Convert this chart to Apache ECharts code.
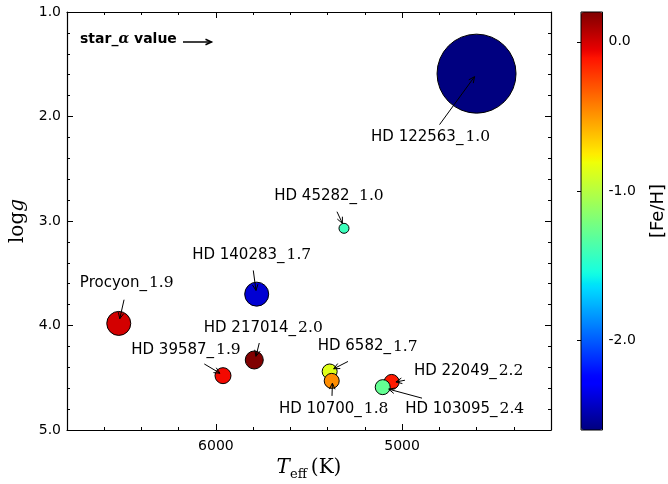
<!DOCTYPE html>
<html>
<head>
<meta charset="utf-8">
<script src="https://cdn.jsdelivr.net/npm/echarts@6/dist/echarts.min.js"></script>
<style>
  html, body { margin: 0; padding: 0; background: #fff; }
  #chart { width: 668px; height: 484px; }
</style>
</head>
<body>
<div id="chart"></div>
<script>
// ---- data ----
const starNames = ['HD 122563', 'HD 45282', 'HD 140283', 'Procyon', 'HD 217014',
                   'HD 39587', 'HD 6582', 'HD 10700', 'HD 22049', 'HD 103095'];
const teff      = [4600, 5312, 5781, 6522, 5794, 5962, 5389, 5378, 5056, 5104];
const logg      = [1.59, 3.07, 3.70, 3.98, 4.33, 4.48, 4.44, 4.53, 4.54, 4.59];
const feh       = [-2.60, -1.42, -2.40, 0.00, 0.20, -0.08, -0.86, -0.47, -0.13, -1.28];
const starAlpha = [1.0, 1.0, 1.7, 1.9, 2.0, 1.9, 1.7, 1.8, 2.2, 2.4];

const xTickValues   = [5000, 6000];
const fehTickValues = [-2, -1, 0];

// ---- styling / layout ----
const markerDiameter = [79, 10, 24, 24, 18, 16, 15, 15, 15, 15];
// annotation placement relative to each marker, in pixels:
// text centre, arrow tail, arrow head
const labelLayout = [
  { text: [-46, 63],   tail: [-37, 51],   head: [-2, 3] },
  { text: [-15, -32],  tail: [-7, -16.6], head: [-1.6, -5] },
  { text: [-5, -39],   tail: [-3.4, -23.7], head: [-0.7, -3.7] },
  { text: [8, -40],    tail: [5.3, -23.7], head: [1, -4.7] },
  { text: [9, -32],    tail: [5, -17],    head: [1.7, -3.7] },
  { text: [-37, -26],  tail: [-18.7, -11.7], head: [-3, -2.4] },
  { text: [38, -25],   tail: [18.3, -10], head: [4, -2.7] },
  { text: [2, 28],     tail: [0.3, 15],   head: [0.7, 2.3] },
  { text: [77, -11],   tail: [13.3, -1.7], head: [4.3, 0] },
  { text: [82, 22],    tail: [39.3, 11],  head: [6, 2] }
];

const SANS = 'DejaVu Sans';
const SERIF = 'DejaVu Serif';

// matplotlib "jet" colour map
function jetChannel(pts, t) {
  for (let i = 1; i < pts.length; i++) {
    if (t <= pts[i][0]) {
      const a = pts[i - 1], b = pts[i];
      return a[1] + (b[1] - a[1]) * (t - a[0]) / (b[0] - a[0]);
    }
  }
  return pts[pts.length - 1][1];
}
function jet(t) {
  const r = jetChannel([[0, 0], [0.35, 0], [0.66, 1], [0.89, 1], [1, 0.5]], t);
  const g = jetChannel([[0, 0], [0.125, 0], [0.375, 1], [0.64, 1], [0.91, 0], [1, 0]], t);
  const b = jetChannel([[0, 0.5], [0.11, 1], [0.34, 1], [0.65, 0], [1, 0]], t);
  const h = v => Math.round(v * 255).toString(16).padStart(2, '0');
  return '#' + h(r) + h(g) + h(b);
}
const jetColors = [];
for (let i = 0; i <= 100; i++) jetColors.push(jet(i / 100));

function arrowParts(t, h, lw) {
  const dx = h[0] - t[0], dy = h[1] - t[1];
  const len = Math.hypot(dx, dy) || 1;
  const ux = dx / len, uy = dy / len;
  const L = 6, W = 2.8;
  const bx = h[0] - ux * L, by = h[1] - uy * L;
  return [
    { type: 'line', shape: { x1: t[0], y1: t[1], x2: h[0], y2: h[1] },
      style: { stroke: '#000', lineWidth: lw || 1 } },
    { type: 'polyline',
      shape: { points: [[bx - uy * W, by + ux * W], [h[0], h[1]], [bx + uy * W, by - ux * W]] },
      style: { stroke: '#000', fill: null, lineWidth: lw || 1 } }
  ];
}

const labelRich = {
  n: { fontFamily: SANS, fontSize: 15, color: '#000', fill: '#000' },
  v: { fontFamily: SERIF, fontSize: 15.5, color: '#000', fill: '#000', padding: [0, 0, 0, 2] }
};

const scatterData = teff.map((t, i) => [t, logg[i], feh[i], i]);

const gridMain = { left: 67, right: 117, top: 12, bottom: 54 };
const axisBlack = { lineStyle: { color: '#000', width: 1.2 } };
const tickStyle = { color: '#000', width: 1 };

const chart = echarts.init(document.getElementById('chart'), null, { renderer: 'canvas' });

chart.setOption({
  animation: false,
  backgroundColor: '#fff',
  grid: [
    Object.assign({ containLabel: false, outerBoundsMode: 'none' }, gridMain),
    { left: 581, right: 65.5, top: 12, bottom: 54, show: true, z: 10,
      outerBoundsMode: 'none', containLabel: false,
      backgroundColor: 'transparent', borderColor: '#000', borderWidth: 1 },
    Object.assign({ containLabel: false, outerBoundsMode: 'none', show: false }, gridMain)
  ],
  xAxis: [
    { gridIndex: 0, type: 'value', position: 'bottom', min: 4200, max: 6800, inverse: true,
      interval: 200,
      axisLine: Object.assign({ show: true, onZero: false }, axisBlack),
      axisTick: { show: true, inside: true, length: 3, lineStyle: tickStyle },
      axisLabel: { customValues: xTickValues, formatter: v => String(v), color: '#000',
                   fontFamily: SANS, fontSize: 14, margin: 9 },
      splitLine: { show: false },
      name: '{t|T}{s|eff}{k|\u2009(K)}', nameLocation: 'middle', nameGap: 22,
      nameTextStyle: { rich: {
        t: { fontFamily: SERIF, fontStyle: 'italic', fontSize: 20, color: '#000', lineHeight: 26, verticalAlign: 'middle' },
        s: { fontFamily: SERIF, fontSize: 13, color: '#000', lineHeight: 26, verticalAlign: 'bottom' },
        k: { fontFamily: SERIF, fontSize: 20, color: '#000', lineHeight: 26, verticalAlign: 'middle' }
      } } },
    { gridIndex: 0, type: 'value', position: 'top', min: 4200, max: 6800, inverse: true,
      interval: 200,
      axisLine: Object.assign({ show: true, onZero: false }, axisBlack),
      axisTick: { show: true, inside: true, length: 3, lineStyle: tickStyle },
      axisLabel: { show: false }, splitLine: { show: false } },
    { gridIndex: 2, type: 'value', position: 'bottom', min: 4200, max: 6800, inverse: true,
      axisLine: { show: false },
      axisTick: { show: true, inside: true, length: 6, customValues: xTickValues, lineStyle: tickStyle },
      axisLabel: { show: false }, splitLine: { show: false } },
    { gridIndex: 2, type: 'value', position: 'top', min: 4200, max: 6800, inverse: true,
      axisLine: { show: false },
      axisTick: { show: true, inside: true, length: 6, customValues: xTickValues, lineStyle: tickStyle },
      axisLabel: { show: false }, splitLine: { show: false } },
    { gridIndex: 1, type: 'value', show: false, min: 0, max: 1 }
  ],
  yAxis: [
    { gridIndex: 0, type: 'value', position: 'left', min: 1, max: 5, inverse: true, interval: 1,
      axisLine: Object.assign({ show: true, onZero: false }, axisBlack),
      axisTick: { show: true, inside: true, length: 6, lineStyle: tickStyle },
      minorTick: { show: true, splitNumber: 5, length: 3, lineStyle: tickStyle },
      axisLabel: { formatter: v => v.toFixed(1), color: '#000', fontFamily: SANS, fontSize: 14, margin: 6 },
      splitLine: { show: false }, minorSplitLine: { show: false },
      name: '{l|log}{g|g}', nameLocation: 'middle', nameRotate: 90, nameGap: 38,
      nameTextStyle: { rich: {
        l: { fontFamily: SERIF, fontSize: 20, color: '#000' },
        g: { fontFamily: SERIF, fontStyle: 'italic', fontSize: 20, color: '#000' }
      } } },
    { gridIndex: 0, type: 'value', position: 'right', min: 1, max: 5, inverse: true, interval: 1,
      axisLine: Object.assign({ show: true, onZero: false }, axisBlack),
      axisTick: { show: true, inside: true, length: 6, lineStyle: tickStyle },
      minorTick: { show: true, splitNumber: 5, length: 3, lineStyle: tickStyle },
      axisLabel: { show: false }, splitLine: { show: false }, minorSplitLine: { show: false } },
    { gridIndex: 2, type: 'value', show: false, min: 1, max: 5, inverse: true },
    { gridIndex: 1, type: 'value', position: 'right', min: -2.6, max: 0.2,
      axisLine: { show: false },
      axisTick: { show: true, inside: true, length: 4, customValues: fehTickValues, lineStyle: tickStyle },
      axisLabel: { customValues: fehTickValues, formatter: v => v.toFixed(1), color: '#000',
                   fontFamily: SANS, fontSize: 14, margin: 6 },
      splitLine: { show: false },
      name: '[Fe/H]', nameLocation: 'middle', nameRotate: 90, nameGap: 47,
      nameTextStyle: { fontFamily: SANS, fontSize: 18, color: '#000', padding: [0, 0, 0, 20] } }
  ],
  visualMap: {
    type: 'continuous', seriesIndex: 0, dimension: 2, min: -2.6, max: 0.2,
    inRange: { color: jetColors },
    show: true, calculable: false, text: null, padding: 0,
    orient: 'vertical', left: 581, top: 12, itemWidth: 21.5, itemHeight: 418,
    hoverLink: false
  },
  series: [
    { type: 'scatter', xAxisIndex: 0, yAxisIndex: 0, data: scatterData,
      symbol: 'circle', symbolSize: (v) => markerDiameter[v[3]],
      itemStyle: { borderColor: '#000', borderWidth: 1, opacity: 1 },
      z: 3, silent: true },
    { type: 'custom', xAxisIndex: 0, yAxisIndex: 0, data: scatterData, clip: false, z: 5,
      silent: true,
      renderItem: function (params, api) {
        const i = api.value(3);
        const p = api.coord([api.value(0), api.value(1)]);
        const L = labelLayout[i];
        const off = o => [p[0] + o[0], p[1] + o[1]];
        const tc = off(L.text);
        return {
          type: 'group',
          children: [
            { type: 'text', x: tc[0], y: tc[1],
              style: { text: '{n|' + starNames[i] + '_}{v|' + starAlpha[i].toFixed(1) + '}',
                       rich: labelRich, align: 'center', verticalAlign: 'middle', fill: '#000' } }
          ].concat(arrowParts(off(L.tail), off(L.head)))
        };
      } }
  ],
  graphic: [
    { type: 'text', left: 80, top: 32, silent: true,
      style: { text: '{a|star_}{b|\u03b1}{a| value}',
               rich: { a: { fontFamily: SANS, fontWeight: 'bold', fontSize: 14, fill: '#000', color: '#000' },
                       b: { fontFamily: SERIF, fontStyle: 'italic', fontWeight: 'bold', fontSize: 14, fill: '#000', color: '#000' } } } },
    { type: 'group', silent: true, children: arrowParts([183, 42], [211.5, 42], 1.5) }
  ]
});
</script>
</body>
</html>
